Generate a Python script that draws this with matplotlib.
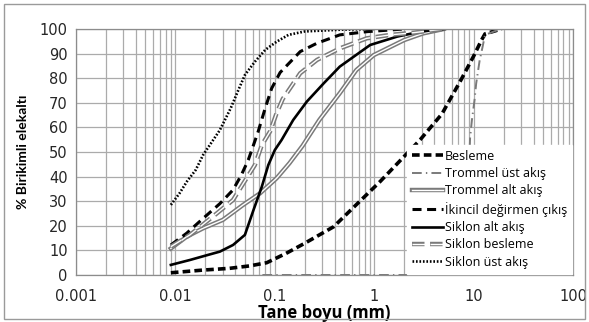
import numpy as np
import matplotlib
matplotlib.use("Agg")
import matplotlib.pyplot as plt
import matplotlib.patheffects as pe
from matplotlib.ticker import FixedLocator, LogLocator, NullFormatter

plt.rcParams['lines.scale_dashes'] = False

# --- data (size mm, cumulative % passing) ---
besleme_x = [0.009, 0.019, 0.035, 0.056, 0.083, 0.13, 0.2, 0.39, 1.14, 2.9, 4.8, 7.5, 10.0, 12.0, 13.0, 19.0]
besleme_y = [0.9, 2.0, 2.7, 3.7, 5.0, 8.8, 12.9, 19.6, 37.9, 55.0, 65.5, 79.5, 89.0, 95.5, 98.0, 100.0]

trommel_ust_x = [0.075, 8.2, 9.2, 9.6, 10.2, 10.6, 11.5, 12.3, 13.0, 17.6, 20.0]
trommel_ust_y = [0.0, 0.0, 55.6, 63.0, 71.1, 77.9, 87.4, 92.8, 97.6, 99.6, 100.0]

trommel_alt_x = [0.009, 0.013, 0.019, 0.030, 0.048, 0.071, 0.104, 0.14, 0.19, 0.28, 0.45, 0.66, 0.99, 2.0, 3.1, 5.0]
trommel_alt_y = [10.8, 15.6, 19.0, 22.4, 28.5, 33.2, 39.3, 45.4, 52.5, 63.0, 73.9, 83.3, 89.4, 95.5, 98.2, 100.0]

ikincil_x = [0.009, 0.013, 0.019, 0.028, 0.038, 0.046, 0.054, 0.061, 0.068, 0.08, 0.093, 0.113, 0.18, 0.265, 0.45, 0.84, 2.0]
ikincil_y = [12.2, 17.0, 23.0, 29.0, 34.6, 40.6, 46.7, 52.8, 58.3, 67.8, 75.9, 82.3, 90.8, 94.2, 97.6, 98.9, 100.0]

siklon_alt_x = [0.009, 0.014, 0.021, 0.028, 0.038, 0.05, 0.061, 0.074, 0.086, 0.1, 0.117, 0.153, 0.21, 0.31, 0.45, 0.91, 1.7, 2.9, 5.0]
siklon_alt_y = [4.1, 6.1, 8.1, 9.5, 12.2, 16.3, 26.4, 35.9, 44.7, 50.8, 54.9, 63.0, 70.5, 77.9, 84.7, 93.5, 96.9, 98.9, 100.0]

siklon_bes_x = [0.009, 0.014, 0.026, 0.038, 0.046, 0.063, 0.074, 0.09, 0.104, 0.12, 0.18, 0.265, 0.45, 0.84, 1.45, 2.5, 5.0]
siklon_bes_y = [11.5, 16.3, 25.0, 30.5, 35.9, 44.7, 52.8, 58.5, 65.7, 71.5, 82.0, 87.4, 92.1, 96.2, 97.6, 98.5, 100.0]

siklon_ust_x = [0.009, 0.011, 0.013, 0.016, 0.019, 0.024, 0.028, 0.036, 0.043, 0.05, 0.063, 0.08, 0.104, 0.137, 0.2, 0.45, 1.0]
siklon_ust_y = [28.5, 33.2, 37.9, 42.7, 48.8, 54.9, 58.9, 67.8, 75.2, 81.3, 86.7, 91.5, 94.8, 97.6, 99.0, 99.7, 100.0]

x_ticks = [0.001, 0.01, 0.1, 1, 10, 100]
x_labels = ['0.001', '0.01', '0.1', '1', '10', '100']
y_ticks = list(range(0, 101, 10))

fig = plt.figure(figsize=(5.89, 3.22), dpi=100)
ax = fig.add_axes([0.129, 0.146, 0.844, 0.764])

grid_c = '#ababab'
ax.set_xscale('log')
ax.set_xlim(0.001, 100)
ax.set_ylim(0, 100)
ax.xaxis.set_major_locator(FixedLocator(x_ticks))
ax.set_xticklabels(x_labels)
ax.xaxis.set_minor_locator(LogLocator(base=10, subs=np.arange(2, 10)))
ax.xaxis.set_minor_formatter(NullFormatter())
ax.set_yticks(y_ticks)
ax.grid(True, which='both', axis='x', color=grid_c, lw=0.9)
ax.grid(True, which='major', axis='y', color=grid_c, lw=0.9)
ax.set_axisbelow(True)
ax.tick_params(which='both', length=0, labelsize=10.5, colors='#262626')
ax.tick_params(axis='x', pad=10)
ax.tick_params(axis='y', pad=6)
for s in ax.spines.values():
    s.set_color('#8c8c8c')
    s.set_linewidth(0.9)

gray = '#7a7a7a'
double = [pe.Stroke(linewidth=3.2, foreground=gray), pe.Normal()]

ax.plot(besleme_x, besleme_y, color='black', lw=2.6, dashes=(5.5, 3.0), label='Besleme')
ax.plot(trommel_ust_x, trommel_ust_y, color=gray, lw=1.4, dashes=(7, 3, 1, 3), label='Trommel üst akış')
ax.plot(trommel_alt_x, trommel_alt_y, color='white', lw=1.0, path_effects=double, label='Trommel alt akış')
ax.plot(ikincil_x, ikincil_y, color='black', lw=2.2, dashes=(6.5, 4.0), label='İkincil değirmen çıkış')
ax.plot(siklon_alt_x, siklon_alt_y, color='black', lw=1.9, label='Siklon alt akış')
ax.plot(siklon_bes_x, siklon_bes_y, color='white', lw=1.0, dashes=(9, 4), path_effects=double, label='Siklon besleme')
ax.plot(siklon_ust_x, siklon_ust_y, color='black', lw=1.9, dashes=(1.2, 1.3), label='Siklon üst akış')

for t in ax.get_xticklabels() + ax.get_yticklabels():
    t.set_fontfamily('DejaVu Sans')

ax.set_ylabel('% Birikimli elekaltı', fontsize=10, fontweight='bold',
              family=['Liberation Sans Narrow', 'Lato'], labelpad=8)
ax.set_xlabel('Tane boyu (mm)', fontsize=12, fontweight='bold', family='Open Sans', labelpad=0)

leg = ax.legend(loc='lower right', bbox_to_anchor=(1.0, 0.0), frameon=True, fancybox=False,
                prop={'family': 'Open Sans', 'size': 9}, handlelength=2.5, handletextpad=0.1,
                labelspacing=0.35, borderaxespad=0.1, borderpad=0.4)
leg.get_frame().set_facecolor('white')
leg.get_frame().set_edgecolor('white')
leg.get_frame().set_alpha(1)

fig.patches.append(plt.Rectangle((0.006, 0.01), 0.988, 0.978, transform=fig.transFigure,
                                 fill=False, edgecolor='#9a9a9a', lw=1.0))

fig.savefig('out.png', dpi=100)
